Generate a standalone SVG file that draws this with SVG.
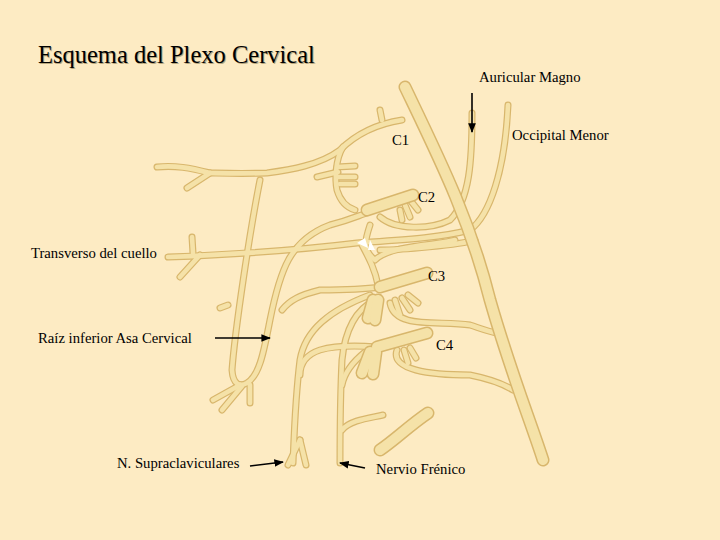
<svg xmlns="http://www.w3.org/2000/svg" xmlns:xlink="http://www.w3.org/1999/xlink" width="720" height="540" viewBox="0 0 720 540">
<style>
.o{fill:none;stroke:#d8b66c;stroke-linecap:round;stroke-linejoin:round}
.f{fill:none;stroke:#f5e2a8;stroke-linecap:round;stroke-linejoin:round}
.t{font-family:"Liberation Serif",serif;font-size:14.7px;fill:#000}
.a{stroke:#000;stroke-width:1.6;fill:none}
</style>
<defs>
<marker id="ah" viewBox="0 0 10 10" refX="9" refY="5" markerWidth="6" markerHeight="6" orient="auto"><path d="M0,1L10,5L0,9z" fill="#000"/></marker>
<g id="thin">
<path d="M402,120 C370,125 350,140 340,150 C320,165 290,170 267,173 C240,174 215,173 210,173 C190,168 175,165 157,167"/>
<path d="M210,173 L187,188"/><path d="M380,110 L382,120"/>
<path d="M260,180 C250,230 235,330 232,370 C233,385 240,387 247,383 C260,375 264,350 270,320 C280,270 290,240 330,225 C350,220 360,215 367,213"/>
<path d="M240,385 L213,400"/><path d="M242,386 L222,410"/><path d="M250,385 L250,403"/>
<path d="M228,305 L220,308"/>
<path d="M343,147 C335,160 335,180 337,190 C340,200 345,207 355,210"/>
<path d="M337,167 L355,166"/><path d="M338,177 L355,177"/><path d="M340,184 L355,184"/><path d="M317,177 L338,172"/>
<path d="M168,257 C220,255 300,250 357,243 C400,240 440,238 470,230 C490,215 505,170 508,105"/>
<path d="M193,253 L192,237"/><path d="M200,255 L180,277"/>
<path d="M380,217 C395,230 430,230 450,220 C470,200 472,160 472,113"/>
<path d="M370,225 C365,240 362,250 375,260 C390,245 440,245 455,240"/>
<path d="M362,245 C370,260 375,270 378,285"/>
<path d="M380,250 C400,250 460,245 475,240"/>
<path d="M380,287 C360,290 340,290 320,290 C300,295 290,300 282,310"/>
<path d="M370,295 C330,310 305,330 300,360 C295,400 294,440 293,463"/>
<path d="M300,440 L288,465"/><path d="M300,440 L306,465"/>
<path d="M375,300 C355,310 345,330 342,360 C340,400 340,440 340,463"/>
<path d="M390,303 C395,330 440,320 470,325 C485,330 490,332 497,333"/>
<path d="M377,347 C350,345 330,347 320,350 C305,355 300,365 300,375"/>
<path d="M365,352 C355,360 345,370 342,385"/>
<path d="M397,350 C390,370 430,375 470,375 C495,380 505,385 513,390"/>
<path d="M342,430 C350,420 370,418 383,415"/>
<path d="M395,300 L400,315"/><path d="M402,298 L410,310"/><path d="M408,295 L418,303"/>
<path d="M400,210 L402,220"/><path d="M405,205 L410,217"/><path d="M410,200 L418,210"/>
<path d="M404,350 L408,363"/><path d="M410,348 L416,358"/>
</g>
<g id="thick">
<path d="M405,87 C440,160 470,220 490,300 C510,370 530,420 543,460"/>
<path d="M367,210 L413,195"/><path d="M380,287 L427,273"/><path d="M377,347 L427,333"/>
<path d="M380,450 C395,440 410,425 428,413"/>
<path d="M373,300 L368,318"/><path d="M378,300 L375,320"/><path d="M370,352 L362,373"/><path d="M376,352 L373,374"/>
</g>
</defs>
<rect width="720" height="540" fill="#fdebc3"/>
<text x="39" y="64" font-family="Liberation Serif,serif" font-size="24.5" fill="#8a7a50" opacity="0.6">Esquema del Plexo Cervical</text>
<text x="38" y="63" font-family="Liberation Serif,serif" font-size="24.5" fill="#000">Esquema del Plexo Cervical</text>
<g id="nerves">
<use xlink:href="#thin" class="o" stroke-width="7"/>
<use xlink:href="#thin" class="f" stroke-width="4.6"/>
<use xlink:href="#thick" class="o" stroke-width="13"/>
<use xlink:href="#thick" class="f" stroke-width="10"/>
<path d="M357,243 L365,238 L368,248 Z M370,240 L375,250 L368,250Z" fill="#fff"/>
</g>
<g id="labels">
<text class="t" x="479" y="82">Auricular Magno</text>
<text class="t" x="512" y="140">Occipital Menor</text>
<text class="t" x="392" y="145">C1</text>
<text class="t" x="418" y="202">C2</text>
<text class="t" x="31" y="258">Transverso del cuello</text>
<text class="t" x="428" y="281">C3</text>
<text class="t" x="38" y="343">Raíz inferior Asa Cervical</text>
<text class="t" x="436" y="350">C4</text>
<text class="t" x="117" y="468">N. Supraclaviculares</text>
<text class="t" x="376" y="474">Nervio Frénico</text>
</g>
<g id="connectors">
<path class="a" d="M472,93 L472,132" marker-end="url(#ah)"/>
<path class="a" d="M215,338 L270,338" marker-end="url(#ah)"/>
<path class="a" d="M250,466 L283,462" marker-end="url(#ah)"/>
<path class="a" d="M365,468 L340,463" marker-end="url(#ah)"/>
</g>
</svg>
